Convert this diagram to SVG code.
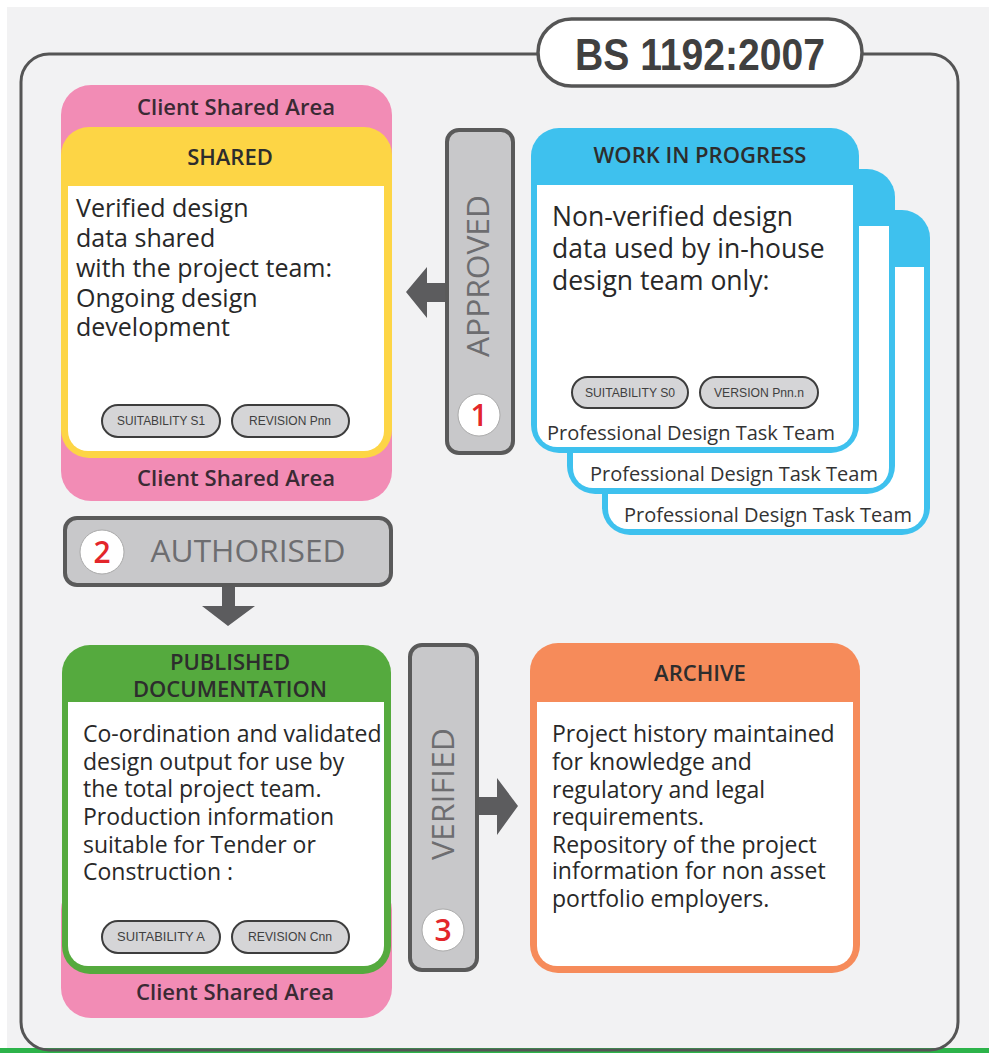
<svg xmlns="http://www.w3.org/2000/svg" width="989" height="1053" viewBox="0 0 989 1053">
<style>
.hdr{font-family:'Open Sans','Noto Sans','DejaVu Sans',sans-serif;font-size:22px;font-weight:600;fill:#2d2d2d;text-anchor:middle}
.body{font-family:'Open Sans','Noto Sans','DejaVu Sans',sans-serif;fill:#282828}
.csa{font-family:'Open Sans','Noto Sans','DejaVu Sans',sans-serif;font-size:21px;font-weight:600;fill:#3a2a34;text-anchor:middle}
.tag{fill:#d5d5d7;stroke:#3d3d3d;stroke-width:2}
.tagt{font-family:'Liberation Sans',Arial,sans-serif;font-size:13px;fill:#3f3f3f;text-anchor:middle}
.bar{fill:#c8c8ca;stroke:#5a5a5a;stroke-width:4}
.bart{font-family:'Open Sans','Noto Sans','DejaVu Sans',sans-serif;font-size:31px;fill:#6d6d70;text-anchor:middle}
.numc{fill:#fff;stroke:#aaa;stroke-width:1}
.numt{font-family:'Open Sans','Noto Sans','DejaVu Sans',sans-serif;font-size:30px;font-weight:600;fill:#e3262b;text-anchor:middle}
.arrow{fill:#5c5c5e}
.white{fill:#fff}
.blue{fill:#3ec1ee}
.ptt{font-family:'Open Sans','Noto Sans','DejaVu Sans',sans-serif;font-size:20px;fill:#333;text-anchor:middle}
</style>
<rect x="0" y="0" width="989" height="1053" fill="#fff"/>
<rect x="7" y="7" width="982" height="1041" fill="#f2f2f3"/>
<rect x="0" y="1048" width="989" height="5" fill="#2db34a"/>

<g id="frame">
  <rect x="21" y="54" width="937" height="996" rx="28" fill="none" stroke="#555" stroke-width="3"/>
  <rect x="538" y="19" width="324" height="67" rx="33.5" fill="#fff" stroke="#555" stroke-width="3.5"/>
  <text x="700" y="70" font-family="'Liberation Sans',Arial,sans-serif" font-size="45" font-weight="bold" fill="#404040" text-anchor="middle" textLength="250" lengthAdjust="spacingAndGlyphs">BS 1192:2007</text>
</g>

<g id="shared">
  <rect x="61" y="85" width="331" height="416" rx="30" fill="#f28cb5"/>
  <text class="csa" x="236" y="115" textLength="198" lengthAdjust="spacingAndGlyphs">Client Shared Area</text>
  <text class="csa" x="236" y="486" textLength="198" lengthAdjust="spacingAndGlyphs">Client Shared Area</text>
  <rect x="61" y="127" width="331" height="331" rx="28" fill="#fdd545"/>
  <path class="white" d="M68 186 H384 V431 A20 20 0 0 1 364 451 H88 A20 20 0 0 1 68 431 Z"/>
  <text class="hdr" x="230" y="165">SHARED</text>
  <text class="body" font-size="25">
    <tspan x="76" y="217">Verified design</tspan>
    <tspan x="76" y="247">data shared</tspan>
    <tspan x="76" y="277">with the project team:</tspan>
    <tspan x="76" y="307">Ongoing design</tspan>
    <tspan x="76" y="336">development</tspan>
  </text>
  <rect class="tag" x="102" y="405" width="118" height="32" rx="16"/>
  <text class="tagt" x="161" y="425" textLength="88" lengthAdjust="spacingAndGlyphs">SUITABILITY S1</text>
  <rect class="tag" x="232" y="405" width="117" height="32" rx="16"/>
  <text class="tagt" x="290" y="425" textLength="82" lengthAdjust="spacingAndGlyphs">REVISION Pnn</text>
</g>

<g id="wip3">
  <rect class="blue" x="602" y="210" width="328" height="325" rx="28"/>
  <path class="white" d="M608 267 H924 V509 A20 20 0 0 1 904 529 H628 A20 20 0 0 1 608 509 Z"/>
  <text class="ptt" x="768" y="522">Professional Design Task Team</text>
</g>
<g id="wip2">
  <rect class="blue" x="567" y="169" width="328" height="325" rx="28"/>
  <path class="white" d="M573 226 H889 V468 A20 20 0 0 1 869 488 H593 A20 20 0 0 1 573 468 Z"/>
  <text class="ptt" x="734" y="481">Professional Design Task Team</text>
</g>
<g id="wip1">
  <rect class="blue" x="531" y="128" width="328" height="325" rx="28"/>
  <path class="white" d="M537 185 H853 V427 A20 20 0 0 1 833 447 H557 A20 20 0 0 1 537 427 Z"/>
  <text class="hdr" x="700" y="163">WORK IN PROGRESS</text>
  <text class="body" font-size="26.5">
    <tspan x="552" y="226">Non-verified design</tspan>
    <tspan x="552" y="258">data used by in-house</tspan>
    <tspan x="552" y="290">design team only:</tspan>
  </text>
  <rect class="tag" x="572" y="377" width="116" height="31" rx="15.5"/>
  <text class="tagt" x="630" y="397" textLength="90" lengthAdjust="spacingAndGlyphs">SUITABILITY S0</text>
  <rect class="tag" x="700" y="377" width="118" height="31" rx="15.5"/>
  <text class="tagt" x="759" y="397" textLength="90" lengthAdjust="spacingAndGlyphs">VERSION Pnn.n</text>
  <text class="ptt" x="691" y="440">Professional Design Task Team</text>
</g>

<g id="published">
  <rect x="61" y="880" width="331" height="138" rx="30" fill="#f28cb5"/>
  <text class="csa" x="235" y="1000" textLength="198" lengthAdjust="spacingAndGlyphs">Client Shared Area</text>
  <rect x="62" y="645" width="329" height="329" rx="28" fill="#55aa3e"/>
  <path class="white" d="M68 702 H384 V946 A20 20 0 0 1 364 966 H88 A20 20 0 0 1 68 946 Z"/>
  <text class="hdr" x="230" y="670">PUBLISHED</text>
  <text class="hdr" x="230" y="697">DOCUMENTATION</text>
  <text class="body" font-size="23">
    <tspan x="83" y="742">Co-ordination and validated</tspan>
    <tspan x="83" y="770">design output for use by</tspan>
    <tspan x="83" y="797">the total project team.</tspan>
    <tspan x="83" y="825">Production information</tspan>
    <tspan x="83" y="853">suitable for Tender or</tspan>
    <tspan x="83" y="880">Construction :</tspan>
  </text>
  <rect class="tag" x="102" y="921" width="118" height="32" rx="16"/>
  <text class="tagt" x="161" y="941" textLength="88" lengthAdjust="spacingAndGlyphs">SUITABILITY A</text>
  <rect class="tag" x="232" y="921" width="117" height="32" rx="16"/>
  <text class="tagt" x="290" y="941" textLength="84" lengthAdjust="spacingAndGlyphs">REVISION Cnn</text>
</g>

<g id="archive">
  <rect x="530" y="643" width="330" height="330" rx="28" fill="#f68b5a"/>
  <path class="white" d="M537 702 H853 V946 A20 20 0 0 1 833 966 H557 A20 20 0 0 1 537 946 Z"/>
  <text class="hdr" x="700" y="681">ARCHIVE</text>
  <text class="body" font-size="23">
    <tspan x="552" y="742">Project history maintained</tspan>
    <tspan x="552" y="770">for knowledge and</tspan>
    <tspan x="552" y="798">regulatory and legal</tspan>
    <tspan x="552" y="825">requirements.</tspan>
    <tspan x="552" y="853">Repository of the project</tspan>
    <tspan x="552" y="879">information for non asset</tspan>
    <tspan x="552" y="907">portfolio employers.</tspan>
  </text>
</g>

<g id="connectors">
  <g id="approved">
    <polygon class="arrow" points="406,292 427,267 427,283 449,283 449,302 427,302 427,318"/>
    <rect class="bar" x="447" y="130" width="66" height="323" rx="12"/>
    <text class="bart" transform="translate(489,276) rotate(-90)" textLength="162" lengthAdjust="spacingAndGlyphs">APPROVED</text>
    <circle class="numc" cx="479" cy="415" r="21"/>
    <text class="numt" x="479" y="426">1</text>
  </g>
  <g id="authorised">
    <polygon class="arrow" points="222,583 235,583 235,606 255,606 228,626 202,606 222,606"/>
    <rect class="bar" x="65" y="518" width="326" height="67" rx="12"/>
    <circle class="numc" cx="102" cy="552" r="22"/>
    <text class="numt" x="102" y="563">2</text>
    <text class="bart" x="248" y="562" textLength="195" lengthAdjust="spacingAndGlyphs">AUTHORISED</text>
  </g>
  <g id="verified">
    <polygon class="arrow" points="475,797 497,797 497,778 518,806 497,835 497,815 475,815"/>
    <rect class="bar" x="410" y="645" width="67" height="325" rx="12"/>
    <text class="bart" transform="translate(454,794) rotate(-90)" textLength="132" lengthAdjust="spacingAndGlyphs">VERIFIED</text>
    <circle class="numc" cx="443" cy="930" r="21"/>
    <text class="numt" x="443" y="941">3</text>
  </g>
</g>
</svg>
